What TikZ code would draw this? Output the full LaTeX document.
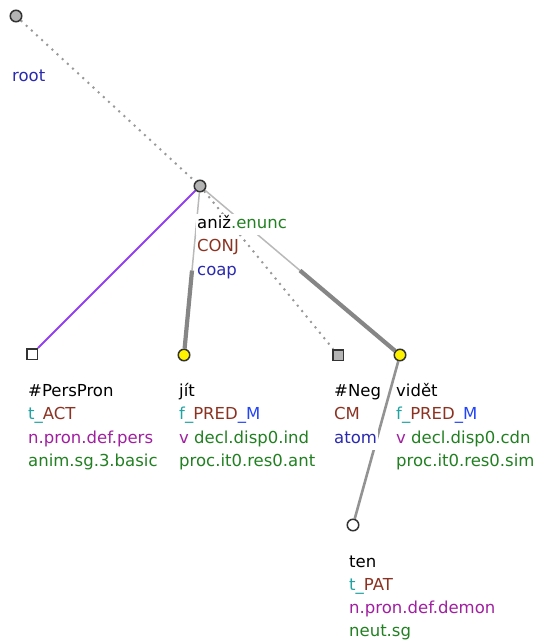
\documentclass[tikz,border=0pt]{standalone}
\usepackage{fontspec}
\setmainfont{DejaVu Sans}
\usepackage{xcolor}
\usetikzlibrary{calc,backgrounds}
\definecolor{fteal}{HTML}{22A3A3}
\definecolor{fbrown}{HTML}{8B3322}
\definecolor{fblue}{HTML}{2A2AB0}
\definecolor{fbright}{HTML}{2244F5}
\definecolor{fpurple}{HTML}{A020A0}
\definecolor{fgreen}{HTML}{228022}
\definecolor{edgepurple}{HTML}{9040F0}
\definecolor{nodegray}{HTML}{B4B4B4}

\begin{document}
\begin{tikzpicture}[x=1pt,y=-1pt,
  tnode/.style={circle,draw=black!80,line width=1.5pt,minimum size=11.5pt,inner sep=0pt},
  gnode/.style={tnode,fill=nodegray},
  ynode/.style={tnode,fill=yellow},
  wnode/.style={tnode,fill=white},
  sqnode/.style={rectangle,draw=black!80,line width=1.5pt,minimum size=10.5pt,inner sep=0pt},
  lbl/.style={anchor=base west,fill=white,inner xsep=1pt,inner ysep=1pt,text height=13pt,text depth=6pt,font=\fontsize{16.5}{23.5}\selectfont},
  dotline/.style={draw=gray!80,line width=2pt,dash pattern=on 2pt off 5pt},
  thinline/.style={draw=gray!55,line width=1.5pt},
  thickline/.style={draw=gray!95,line width=4.2pt},
  midline/.style={draw=gray!85,line width=2.6pt}]
\useasboundingbox (0,0) rectangle (538,643);
% tree nodes
\node[gnode] (root) at (16,16) {};
\node[gnode] (aniz) at (200,186) {};
\node[sqnode,fill=white] (pers) at (32,354) {};
\node[ynode] (jit) at (184,355) {};
\node[sqnode,fill=nodegray] (neg) at (338,355) {};
\node[ynode] (videt) at (400,355) {};
\node[wnode] (ten) at (353,525) {};
\coordinate (mjit) at ($(aniz)!.5!(jit)$);
\coordinate (mvidet) at ($(aniz)!.5!(videt)$);
% edges
\begin{scope}[on background layer]
\draw[dotline] (root)--(aniz);
\draw[dotline] (aniz)--(neg);
\draw[edgepurple,line width=2pt] (aniz)--(pers);
\draw[thinline] (aniz)--(mjit);
\draw[thickline] (mjit)--(jit);
\draw[thinline] (aniz)--(mvidet);
\draw[thickline] (mvidet)--(videt);
\draw[midline] (videt)--(ten);
\end{scope}
% labels
\node[lbl,text=fblue] (rootB) at (11,81.5) {root};
\node[lbl] (anizA) at (196,228) {aniž\textcolor{fgreen}{.enunc}};
\node[lbl,text=fbrown] (anizB) at (196,251.5) {CONJ};
\node[lbl,text=fblue] (anizC) at (196,275) {coap};
\node[lbl] (persA) at (27,396) {\#PersPron};
\node[lbl] (persB) at (27,419.5) {\textcolor{fteal}{t\_}\textcolor{fbrown}{ACT}};
\node[lbl,text=fpurple] (persC) at (27,443) {n.pron.def.pers};
\node[lbl,text=fgreen] (persD) at (27,466.5) {anim.sg.3.basic};
\node[lbl] (jitA) at (178,396) {jít};
\node[lbl] (jitB) at (178,419.5) {\textcolor{fteal}{f\_}\textcolor{fbrown}{PRED}\textcolor{fbright}{\_M}};
\node[lbl] (jitC) at (178,443) {\textcolor{fpurple}{v} \textcolor{fgreen}{decl.disp0.ind}};
\node[lbl,text=fgreen] (jitD) at (178,466.5) {proc.it0.res0.ant};
\node[lbl] (negA) at (333,396) {\#Neg};
\node[lbl,text=fbrown] (negB) at (333,419.5) {CM};
\node[lbl,text=fblue] (negC) at (333,443) {atom};
\node[lbl] (videtA) at (395,396) {vidět};
\node[lbl] (videtB) at (395,419.5) {\textcolor{fteal}{f\_}\textcolor{fbrown}{PRED}\textcolor{fbright}{\_M}};
\node[lbl] (videtC) at (395,443) {\textcolor{fpurple}{v} \textcolor{fgreen}{decl.disp0.cdn}};
\node[lbl,text=fgreen] (videtD) at (395,466.5) {proc.it0.res0.sim};
\node[lbl] (tenA) at (348,567) {ten};
\node[lbl] (tenB) at (348,590) {\textcolor{fteal}{t\_}\textcolor{fbrown}{PAT}};
\node[lbl,text=fpurple] (tenC) at (348,613) {n.pron.def.demon};
\node[lbl,text=fgreen] (tenD) at (348,636) {neut.sg};
\end{tikzpicture}
\end{document}
